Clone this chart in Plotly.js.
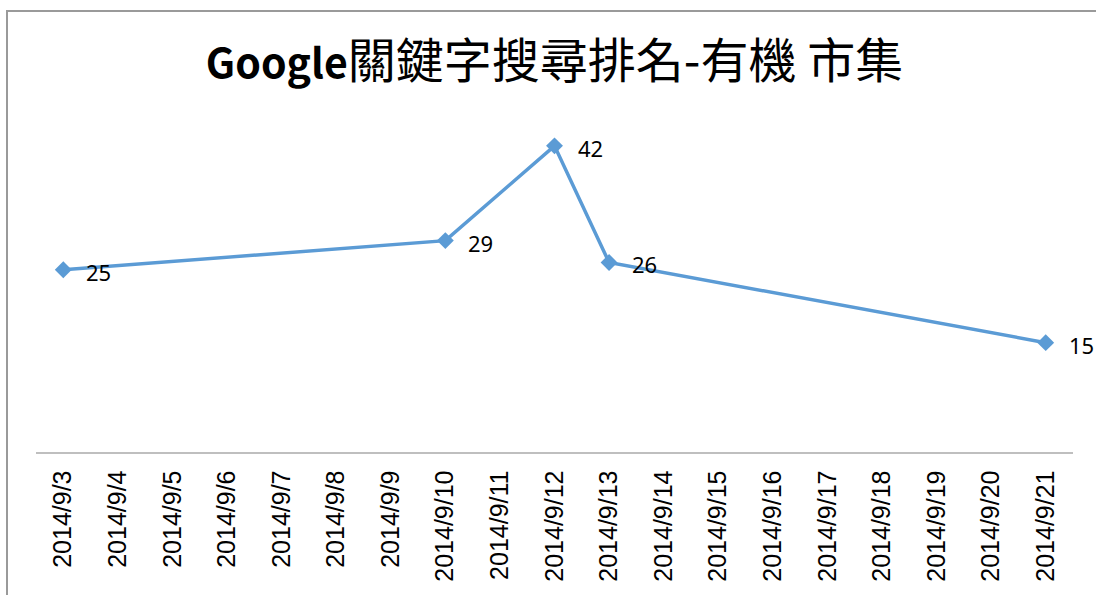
<!DOCTYPE html>
<html>
<head>
<meta charset="utf-8">
<script src="https://cdn.plot.ly/plotly-3.0.1.min.js"></script>
<style>
  body { margin: 0; overflow: hidden; background: #fff; }
  #chart { width: 1096px; height: 595px; }
  #frame {
    position: absolute; left: 6px; top: 10px; width: 2000px; height: 2000px;
    border-left: 2px solid #9a9a9a; border-top: 2px solid #9a9a9a;
    pointer-events: none;
  }
</style>
</head>
<body>
<div id="chart"></div>
<div id="frame"></div>
<script>
// all days on the category axis
var allDates = ["2014/9/3", "2014/9/4", "2014/9/5", "2014/9/6", "2014/9/7", "2014/9/8", "2014/9/9",
    "2014/9/10", "2014/9/11", "2014/9/12", "2014/9/13", "2014/9/14", "2014/9/15", "2014/9/16",
    "2014/9/17", "2014/9/18", "2014/9/19", "2014/9/20", "2014/9/21"];

// days that have a ranking
var rankDates = ["2014/9/3", "2014/9/10", "2014/9/12", "2014/9/13", "2014/9/21"];
var rankValues = [25, 29, 42, 26, 15];

var lineColor = "#5B9BD5";

var trace = {
    x: rankDates,
    y: rankValues,
    type: "scatter",
    mode: "lines+markers",
    line: { color: lineColor, width: 3.5 },
    marker: { symbol: "diamond", size: 13, color: lineColor },
    hoverinfo: "none"
};

// data labels to the right of each point
var labels = [];
rankDates.forEach(function (d, i) {
    labels.push({
        x: d,
        y: rankValues[i],
        text: String(rankValues[i]),
        showarrow: false,
        xanchor: "left",
        yanchor: "middle",
        xshift: 21,
        yshift: -2,
        font: { family: "Noto Sans", size: 22, color: "#000" }
    });
});

var layout = {
    width: 1096,
    height: 595,
    margin: { l: 36, r: 23, t: 124, b: 143 },
    paper_bgcolor: "#fff",
    plot_bgcolor: "#fff",
    showlegend: false,
    title: {
        text: "<b>Google</b><span style=\"font-size:48px\">關鍵字搜尋排名-有機 市集</span>",
        font: { family: "Noto Sans CJK TC", size: 41, color: "#000" },
        x: 0.5,
        xref: "paper",
        xanchor: "center",
        y: 1 - 64 / 595,
        yref: "container",
        yanchor: "middle"
    },
    xaxis: {
        type: "category",
        categoryorder: "array",
        categoryarray: allDates,
        tickvals: allDates,
        range: [-0.5, 18.5],
        showgrid: false,
        zeroline: false,
        showline: true,
        linecolor: "#bfbfbf",
        linewidth: 1.5,
        ticks: "",
        tickangle: -90,
        ticklabelstandoff: 7,
        tickfont: { family: "Liberation Sans", size: 25, color: "#000" }
    },
    yaxis: {
        range: [0, 45],
        showgrid: false,
        zeroline: false,
        showline: false,
        showticklabels: false,
        ticks: ""
    },
    annotations: labels
};

Plotly.newPlot("chart", [trace], layout, { displayModeBar: false, staticPlot: true });
</script>
</body>
</html>
